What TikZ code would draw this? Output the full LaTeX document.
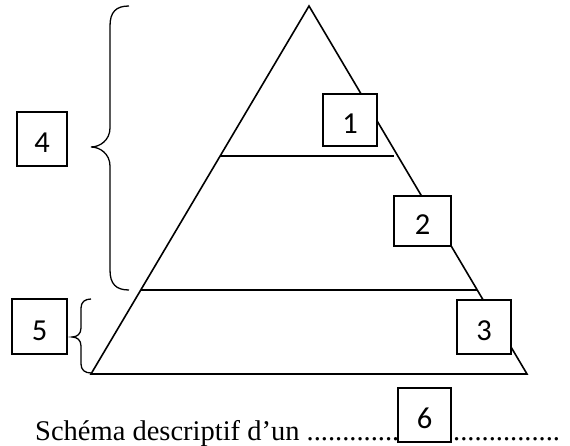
\documentclass[tikz,border=0pt]{standalone}
\usepackage{fontspec}
\setmainfont{Liberation Serif}
\newfontfamily\boxfont{Carlito}
\begin{document}
\begin{tikzpicture}[x=1pt,y=-1pt,
  lbl/.style={draw,line width=1.6pt,fill=white,inner sep=0pt,
    font=\boxfont\fontsize{30.5}{32}\selectfont,text height=27pt,text depth=0pt},
  edge/.style={line width=1.6pt},
  brace/.style={line width=1.3pt},
  captxt/.style={anchor=base west,inner sep=0pt,font=\fontsize{28.5}{30}\selectfont}]
\useasboundingbox (0,0) rectangle (570,446);
% pyramid
\coordinate (apex) at (309,6);
\coordinate (bl) at (91,374);
\coordinate (br) at (527,374);
\draw[edge,line join=miter] (apex) -- (bl) -- (br) -- cycle;
\coordinate (l1a) at (220,156);
\coordinate (l1b) at (394,156);
\coordinate (l2a) at (141,290);
\coordinate (l2b) at (477,290);
\draw[edge] (l1a) -- (l1b);
\draw[edge] (l2a) -- (l2b);
% braces
\coordinate (b4top) at (129,6);
\coordinate (b4tip) at (91,147);
\coordinate (b4bot) at (129,290);
\draw[brace] (b4top) .. controls (116,6) and (110,12) .. (110,26) -- (110,128)
  .. controls (110,140) and (100,147) .. (b4tip)
  .. controls (100,147) and (110,154) .. (110,166) -- (110,270)
  .. controls (110,284) and (116,290) .. (b4bot);
\coordinate (b5top) at (91,299);
\coordinate (b5tip) at (72,337);
\coordinate (b5bot) at (91,373);
\draw[brace] (b5top) .. controls (85,299) and (81,302) .. (81,308) -- (81,328)
  .. controls (81,334) and (77,337) .. (b5tip)
  .. controls (77,337) and (81,340) .. (81,346) -- (81,364)
  .. controls (81,370) and (85,373) .. (b5bot);
% caption
\node[captxt] (cap) at (35,440) {Schéma descriptif d’un ..............};
\node[captxt] (dots) at (453,440) {...............};
% boxes
\node[lbl,minimum width=54pt,minimum height=52pt] (n1) at (350,120) {1};
\node[lbl,minimum width=57pt,minimum height=50pt] (n2) at (422.5,221) {2};
\node[lbl,minimum width=54pt,minimum height=54pt] (n3) at (484,327) {3};
\node[lbl,minimum width=50pt,minimum height=54pt] (n4) at (42,139) {4};
\node[lbl,minimum width=55pt,minimum height=55pt] (n5) at (39.5,326.5) {5};
\node[lbl,minimum width=53pt,minimum height=54pt] (n6) at (424.5,415) {6};
\end{tikzpicture}
\end{document}
